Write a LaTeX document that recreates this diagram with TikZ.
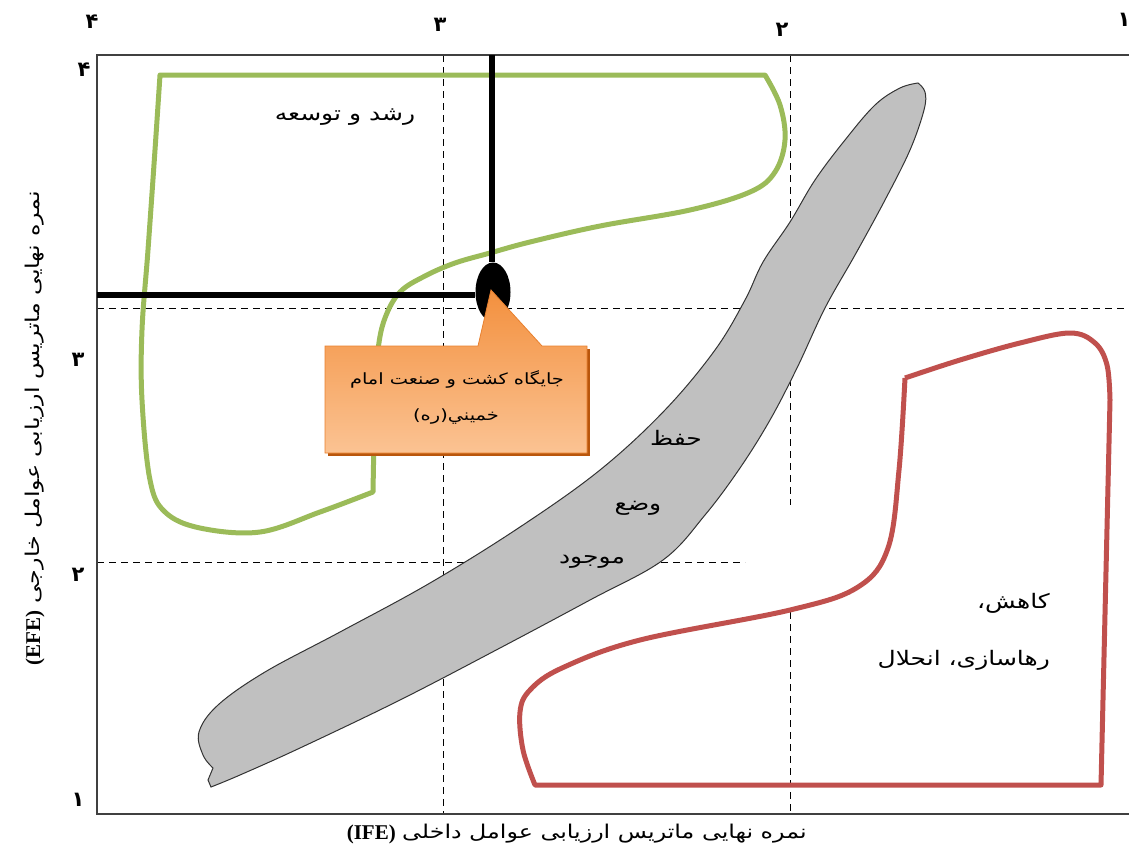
\documentclass[tikz,border=0pt]{standalone}
\usepackage{fontspec}
\setmainfont{Liberation Serif}
\newfontfamily\fa[Script=Arabic, FakeStretch=1.25]{DejaVu Sans}
\newfontfamily\fad[Script=Arabic]{DejaVu Sans Bold}
\TeXXeTstate=1
\usetikzlibrary{shapes.geometric}
\definecolor{gline}{HTML}{9BBB59}
\definecolor{rline}{HTML}{C0504D}
\definecolor{gfill}{HTML}{C0C0C0}
\definecolor{otop}{HTML}{F3903E}
\definecolor{obot}{HTML}{FBC393}
\definecolor{oborder}{HTML}{E8802E}
\definecolor{oshadow}{HTML}{B9560C}
\tikzset{
  frameline/.style={draw=black!75, line width=2pt},
  gridline/.style={draw=black, line width=0.9pt, dash pattern=on 7pt off 5pt},
  greenshape/.style={draw=gline, line width=5pt, line join=round},
  redshape/.style={draw=rline, line width=5pt, line join=round},
  grayshape/.style={draw=black!80, fill=gfill, line width=1pt},
  thickblack/.style={draw=black, line width=6pt},
  falabel/.style={font=\fa\fontsize{20}{24}\selectfont, inner sep=0pt},
  axislabel/.style={font=\fa\fontsize{19}{22}\selectfont, inner sep=0pt},
  calltext/.style={font=\fa\fontsize{15.5}{18}\selectfont, inner sep=0pt},
  ticklabel/.style={font=\fad\fontsize{21}{24}\selectfont, inner sep=0pt},
  latinbold/.style={font=\bfseries\fontsize{21}{24}\selectfont, inner sep=0pt},
}
\begin{document}
\begin{tikzpicture}[x=1pt,y=-1pt]
\useasboundingbox (0,0) rectangle (1129,854);
% grid
\draw[gridline] (443,55) -- (443,814);
\draw[gridline] (790,55) -- (790,505);
\draw[gridline] (790,612) -- (790,814);
\draw[gridline] (97,308) -- (1129,308);
\draw[gridline] (97,562) -- (745,562);
% frame
\draw[frameline] (1129,55) -- (97,55) -- (97,814) -- (1129,814);
% gray band
\draw[grayshape] plot[smooth, tension=0.6] coordinates {
 (918,83) (900,88) (875,105) (845,140) (815,180) (790,222) (763,262) (745,300)
 (715,350) (665,410) (600,470) (520,527) (430,583) (340,632) (265,672) (218,705)
 (199,732) (203,755) (213,768)}
 -- (208,780) -- (211,787)
 -- plot[smooth, tension=0.6] coordinates {
 (211,787) (240,775) (300,748) (400,700) (500,648) (590,600) (663,560) (705,515)
 (740,468) (770,420) (797,368) (825,308) (855,255) (885,200) (910,150) (924,110)
 (925,92) (918,83)} -- cycle;
% green region
\draw[greenshape] (160,75) -- (765,75)
 -- plot[smooth, tension=0.6] coordinates {
 (765,75) (780,105) (785,140) (775,172) (750,192) (690,210) (600,226) (530,242)
 (490,253) (455,263) (425,276) (400,292) (385,318) (378,350) (375,400) (373,492)}
 -- plot[smooth, tension=0.6] coordinates {
 (373,492) (320,512) (260,532) (200,528) (165,512) (150,480) (142,400) (142,330)
 (148,250) (155,150) (160,75)} -- cycle;
% red region
\draw[redshape] (905,378)
 -- plot[smooth, tension=0.6] coordinates {
 (905,378) (960,360) (1020,343) (1070,333) (1095,343) (1107,365) (1110,400)}
 -- (1101,785) -- (535,785)
 -- plot[smooth, tension=0.6] coordinates {
 (535,785) (523,750) (520,712) (530,690) (562,668) (640,640) (790,610) (858,587)
 (888,548) (899,470) (905,378)};
% position marker and lines
\node[ellipse, fill=black, minimum width=35pt, minimum height=59pt, inner sep=0pt] (pt) at (493,292) {};
\coordinate (vtop) at (492,55);
\coordinate (hleft) at (97,295);
\draw[thickblack] (vtop) -- (pt.north -| vtop);
\draw[thickblack] (hleft) -- (hleft -| pt.west);
% callout
\coordinate (tip) at (491,290);
\fill[oshadow] (328,349) rectangle (590,456);
\shadedraw[top color=otop, bottom color=obot, draw=oborder, line width=0.8pt]
 (325,346) -- (478,346) -- (tip) -- (542,346) -- (587,346) -- (587,453) -- (325,453) -- cycle;
\node[calltext] (c1) at (457,379) {\beginR جایگاه کشت و صنعت امام\endR};
\node[calltext] (c2) at (456,417) {\beginR خميني(ره)\endR};
% region labels
\node[falabel] (grow) at (345,117) {\beginR رشد و توسعه\endR};
\node[falabel] (h1) at (676,438) {\beginR حفظ\endR};
\node[falabel] (h2) at (638,508) {\beginR وضع\endR};
\node[falabel] (h3) at (592,562) {\beginR موجود\endR};
\node[falabel, anchor=east] (k1) at (1050,603) {\beginR کاهش،\endR};
\node[falabel, anchor=east] (k2) at (1050,660) {\beginR رهاسازی، انحلال\endR};
% tick labels
\node[ticklabel] (t4) at (92,22) {۴};
\node[ticklabel] (t3) at (440,25) {۳};
\node[ticklabel] (t2) at (782,30) {۲};
\node[ticklabel] (t1) at (1124,20) {۱};
\node[ticklabel] (l4) at (84,70) {۴};
\node[ticklabel] (l3) at (78,360) {۳};
\node[ticklabel] (l2) at (78,575) {۲};
\node[ticklabel] (l1) at (78,800) {۱};
% axis titles
\node[axislabel, anchor=west] (xt) at (402,834) {\beginR نمره  نهایی ماتریس ارزیابی عوامل داخلی\endR};
\node[latinbold, anchor=east] (xe) at (396,834) {(IFE)};
\node[axislabel, anchor=west, rotate=90] (yt) at (35,604) {\beginR نمره نهایی ماتریس ارزیابی عوامل خارجی\endR};
\node[latinbold, anchor=east, rotate=90] (ye) at (35,610) {(EFE)};
\end{tikzpicture}
\end{document}
